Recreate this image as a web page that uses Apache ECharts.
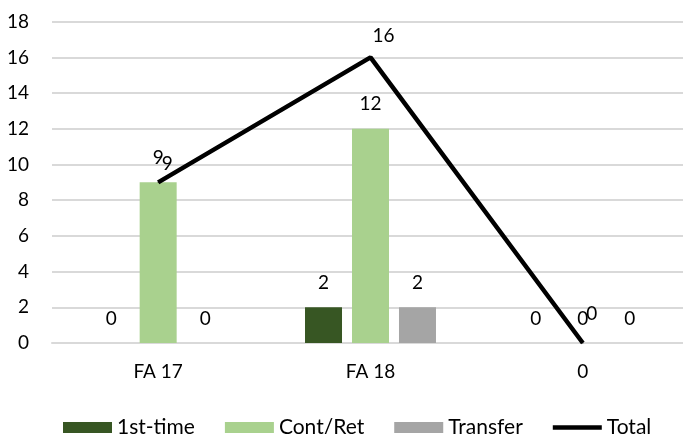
<!DOCTYPE html>
<html><head><meta charset="utf-8">
<script src="https://cdn.jsdelivr.net/npm/echarts@6/dist/echarts.min.js"></script>
<style>html,body{margin:0;padding:0;background:#fff}#c{width:683px;height:434px}</style>
</head><body><div id="c"></div>
<script>
const categories = ['FA 17', 'FA 18', '0'];
const firstTime = [0, 2, 0];
const contRet = [9, 12, 0];
const transfer = [0, 2, 0];
const total = [9, 16, 0];
const yTicks = {min: 0, max: 18, interval: 2};
const totalLabelOffsets = [[9, -4], [13, -8], [9, -15]];

const FONT = 'Lato';
const FS = 19;
const chart = echarts.init(document.getElementById('c'), null, {renderer: 'canvas'});
const barLabel = {show: true, position: 'top', distance: 15, color: '#000', fontSize: FS, fontFamily: FONT};
chart.setOption({
  animation: false,
  textStyle: {fontFamily: FONT},
  grid: {left: 52, width: 637, top: 21.7, bottom: 91, outerBoundsMode: 'none', containLabel: false},
  legend: {
    top: 412, left: 58,
    itemWidth: 49, itemHeight: 11, itemGap: 30,
    symbolKeepAspect: true,
    textStyle: {fontSize: 21, color: '#000', fontFamily: FONT},
    data: [
      {name: '1st-time', icon: 'rect'},
      {name: 'Cont/Ret', icon: 'rect'},
      {name: 'Transfer', icon: 'rect'},
      {name: 'Total', icon: 'path://M0,0 L52,0 L52,4.8 L0,4.8 Z'}
    ]
  },
  xAxis: {
    type: 'category', data: categories,
    axisLine: {lineStyle: {color: '#D9D9D9', width: 2}},
    axisTick: {show: false},
    axisLabel: {color: '#000', fontSize: FS, margin: 19, fontFamily: FONT}
  },
  yAxis: {
    type: 'value', min: yTicks.min, max: yTicks.max, interval: yTicks.interval,
    axisLine: {show: false}, axisTick: {show: false},
    splitLine: {lineStyle: {color: '#D9D9D9', width: 2}},
    axisLabel: {color: '#000', fontSize: FS, margin: 23, fontFamily: FONT}
  },
  series: [
    {name: '1st-time', type: 'bar', data: firstTime, barWidth: 37, barGap: '27%', itemStyle: {color: '#375623'}, label: barLabel},
    {name: 'Cont/Ret', type: 'bar', data: contRet, barWidth: 37, barGap: '27%', itemStyle: {color: '#A9D18E'}, label: barLabel},
    {name: 'Transfer', type: 'bar', data: transfer, barWidth: 37, barGap: '27%', itemStyle: {color: '#A5A5A5'}, label: barLabel},
    {name: 'Total', type: 'line', z: 5,
     data: total.map((v, i) => ({value: v, label: {offset: totalLabelOffsets[i]}})),
     symbol: 'circle', symbolSize: 1, showSymbol: true,
     itemStyle: {color: '#000'},
     lineStyle: {color: '#000', width: 4.5, cap: 'butt'},
     label: {show: true, position: 'top', distance: 4, color: '#000', fontSize: FS, fontFamily: FONT}}
  ]
});
</script></body></html>
